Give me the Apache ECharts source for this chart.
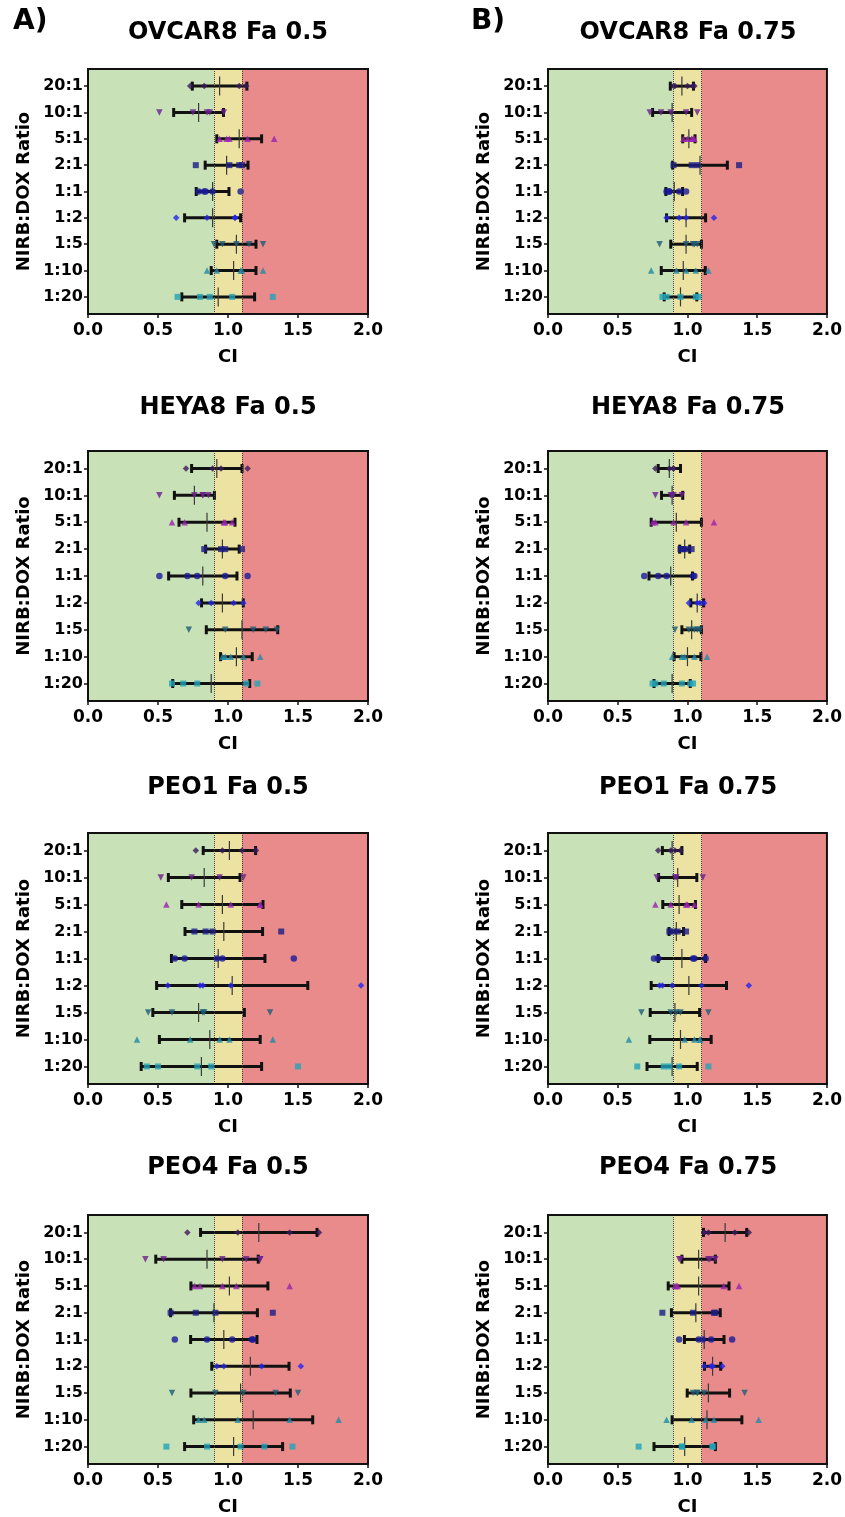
<!DOCTYPE html>
<html><head><meta charset="utf-8">
<script src="https://cdn.jsdelivr.net/npm/echarts@6/dist/echarts.min.js"></script>
<style>html,body{margin:0;padding:0;background:#fff}#c{width:845px;height:1517px}</style>
</head><body><div id="c"></div>
<script>
// ---------- data ----------
const categories = ['20:1','10:1','5:1','2:1','1:1','1:2','1:5','1:10','1:20'];
const xTickStep = 0.5;
const xMin = 0, xMax = 2;
const zoneBounds = [0, 0.9, 1.1, 2];
const panelTitles = ['OVCAR8 Fa 0.5','OVCAR8 Fa 0.75','HEYA8 Fa 0.5','HEYA8 Fa 0.75','PEO1 Fa 0.5','PEO1 Fa 0.75','PEO4 Fa 0.5','PEO4 Fa 0.75'];
const panelLetters = ['A)','B)'];

const ovcar8_05_mean = [0.94,0.79,1.08,0.99,0.89,0.89,1.06,1.04,0.93];
const ovcar8_05_sd   = [0.195,0.178,0.16,0.153,0.117,0.2,0.14,0.16,0.26];
const ovcar8_05_pts  = [[0.73,0.83,1.08,1.13],[0.51,0.75,0.85,0.87,0.97],[0.94,0.99,1.01,1.14,1.33],[0.77,1.01,1.08,1.10],[0.79,0.83,0.84,0.89,1.09],[0.63,0.85,1.05,1.05],[0.90,0.96,1.06,1.15,1.25],[0.85,0.92,1.09,1.10,1.25],[0.64,0.80,0.87,1.03,1.32]];

const ovcar8_075_mean = [0.96,0.89,1.01,1.09,0.905,0.99,0.99,0.97,0.95];
const ovcar8_075_sd   = [0.083,0.14,0.044,0.196,0.06,0.14,0.11,0.158,0.117];
const ovcar8_075_pts  = [[0.90,0.91,1.00,1.04,1.05],[0.73,0.81,0.88,0.99,1.07],[0.97,1.00,1.03,1.04,1.05],[0.90,1.03,1.07,1.37],[0.85,0.87,0.87,0.94,0.99],[0.85,0.94,0.99,1.19],[0.80,0.99,1.04,1.05,1.07],[0.74,0.92,0.99,1.06,1.15],[0.82,0.85,0.95,1.06,1.08]];

const heya8_05_mean = [0.92,0.76,0.85,0.96,0.82,0.96,1.10,1.06,0.88];
const heya8_05_sd   = [0.18,0.143,0.2,0.12,0.244,0.149,0.255,0.113,0.275];
const heya8_05_pts  = [[0.70,0.89,0.95,1.14],[0.51,0.76,0.82,0.82,0.86],[0.60,0.69,0.97,0.98,1.03],[0.83,0.95,0.98,1.10],[0.51,0.71,0.78,0.98,1.14],[0.79,0.88,1.04,1.11],[0.72,0.98,1.18,1.27,1.35],[0.96,0.98,1.02,1.11,1.23],[0.60,0.68,0.78,1.13,1.21]];

const heya8_075_mean = [0.87,0.89,0.92,0.98,0.88,1.07,1.03,1.00,0.89];
const heya8_075_sd   = [0.08,0.076,0.18,0.036,0.156,0.046,0.07,0.096,0.13];
const heya8_075_pts  = [[0.77,0.87,0.90,0.90],[0.77,0.88,0.89,0.90,0.96],[0.75,0.77,0.90,0.99,1.19],[0.95,0.96,0.97,0.99,1.03],[0.69,0.79,0.85,1.04,1.05],[1.01,1.07,1.09,1.12],[0.91,1.01,1.05,1.07,1.09],[0.89,0.96,0.98,1.05,1.14],[0.75,0.77,0.83,0.96,1.02,1.04]];

const peo1_05_mean = [1.01,0.83,0.96,0.97,0.93,1.03,0.79,0.87,0.81];
const peo1_05_sd   = [0.187,0.256,0.29,0.277,0.334,0.54,0.327,0.36,0.43];
const peo1_05_pts  = [[0.77,0.96,1.10,1.20],[0.52,0.74,0.94,1.11],[0.56,0.79,1.02,1.23,1.23],[0.76,0.84,0.89,1.38],[0.62,0.69,0.92,0.96,1.47],[0.57,0.80,0.82,1.02,1.95],[0.43,0.60,0.82,0.83,1.30],[0.35,0.73,0.94,1.01,1.32],[0.42,0.50,0.78,0.88,1.50]];

const peo1_075_mean = [0.89,0.93,0.94,0.92,0.96,1.01,0.91,0.95,0.89];
const peo1_075_sd   = [0.07,0.137,0.117,0.052,0.17,0.27,0.177,0.22,0.18];
const peo1_075_pts  = [[0.79,0.88,0.91,0.95],[0.78,0.91,0.92,1.11],[0.77,0.88,0.99,1.00,1.05],[0.87,0.90,0.93,0.99],[0.76,0.79,1.04,1.05,1.13],[0.80,0.82,0.89,1.10,1.44],[0.67,0.88,0.92,0.95,1.15],[0.58,0.98,1.05,1.09,1.09],[0.64,0.83,0.87,0.94,1.15]];

const peo4_05_mean = [1.22,0.85,1.01,0.90,0.97,1.16,1.09,1.18,1.04];
const peo4_05_sd   = [0.416,0.366,0.275,0.31,0.237,0.276,0.355,0.425,0.35];
const peo4_05_pts  = [[0.71,1.07,1.44,1.65],[0.41,0.54,0.96,1.13,1.23,1.23],[0.76,0.80,0.96,1.06,1.44],[0.59,0.77,0.91,1.32],[0.62,0.85,1.03,1.17,1.18],[0.92,0.97,1.24,1.52],[0.60,0.91,1.11,1.34,1.50],[0.79,0.83,1.07,1.44,1.79],[0.56,0.85,1.09,1.26,1.46]];

const peo4_075_mean = [1.27,1.08,1.08,1.06,1.12,1.18,1.15,1.14,0.98];
const peo4_075_sd   = [0.155,0.12,0.218,0.175,0.142,0.058,0.152,0.25,0.22];
const peo4_075_pts  = [[1.12,1.12,1.15,1.34,1.44],[0.94,0.95,1.15,1.16,1.20],[0.91,0.92,0.93,1.26,1.37],[0.82,1.04,1.19,1.20],[0.94,1.08,1.11,1.17,1.32],[1.12,1.17,1.18,1.25],[1.04,1.07,1.07,1.12,1.41],[0.85,1.03,1.13,1.19,1.51],[0.65,0.96,0.96,1.18,1.18]];

// ---------- styles / layout ----------
const panels = [
  {m: ovcar8_05_mean, s: ovcar8_05_sd, p: ovcar8_05_pts},
  {m: ovcar8_075_mean, s: ovcar8_075_sd, p: ovcar8_075_pts},
  {m: heya8_05_mean, s: heya8_05_sd, p: heya8_05_pts},
  {m: heya8_075_mean, s: heya8_075_sd, p: heya8_075_pts},
  {m: peo1_05_mean, s: peo1_05_sd, p: peo1_05_pts},
  {m: peo1_075_mean, s: peo1_075_sd, p: peo1_075_pts},
  {m: peo4_05_mean, s: peo4_05_sd, p: peo4_05_pts},
  {m: peo4_075_mean, s: peo4_075_sd, p: peo4_075_pts}
];
const markerSymbols = ['diamond','triangle','triangle','rect','circle','diamond','triangle','triangle','rect'];
const markerRotate  = [0,180,0,0,0,0,180,0,0];
const markerSizes   = [6.5,6.5,6.5,6,6.5,6.5,6.5,6.5,6];
const markerColors  = ['#3b1a5c','#6b1f8f','#9a22b0','#1c1c86','#1a1a9a','#2424ee','#1d5c78','#1f8aa6','#22a2b8'];
const zoneColors = ['#c8e1b6','#ece3a2','#e98b8b'];
const FONT = 'DejaVu Sans';

const colLeft = [88, 548];
const plotW = 280;
const rowTop = [69, 451, 833, 1215];
const rowH = [245, 250, 251, 251];
const titleY = [33, 408, 788, 1168];

const grids = [], xAxes = [], yAxes = [], series = [], titles = [];
const catIdx = categories.map((c, i) => i);

panels.forEach((pn, i) => {
  const col = i % 2, row = Math.floor(i / 2);
  grids.push({left: colLeft[col], top: rowTop[row], width: plotW, height: rowH[row],
    show: true, borderColor: '#111', borderWidth: 2, backgroundColor: 'transparent', z: 20});
  titles.push({text: panelTitles[i], left: colLeft[col] + plotW / 2, top: titleY[row],
    textAlign: 'center', textVerticalAlign: 'middle', padding: 0,
    textStyle: {fontFamily: FONT, fontWeight: 'bold', fontSize: 24, color: '#000'}});
  xAxes.push({gridIndex: i, type: 'value', min: xMin, max: xMax, interval: xTickStep, z: 20,
    name: 'CI', nameLocation: 'middle', nameGap: 34,
    nameTextStyle: {fontFamily: FONT, fontWeight: 'bold', fontSize: 18, color: '#000'},
    axisLine: {show: true, onZero: false, lineStyle: {color: '#111', width: 2}},
    axisTick: {show: true, length: 4, lineStyle: {color: '#111', width: 1.5}},
    axisLabel: {margin: 8, fontFamily: FONT, fontWeight: 'bold', fontSize: 17, color: '#000',
      formatter: v => v.toFixed(1)},
    splitLine: {show: false}});
  yAxes.push({gridIndex: i, type: 'value', inverse: true, min: -0.65, max: categories.length - 1 + 0.65, z: 20,
    name: 'NIRB:DOX Ratio', nameLocation: 'middle', nameGap: 55,
    nameTextStyle: {fontFamily: FONT, fontWeight: 'bold', fontSize: 18, color: '#000'},
    axisLine: {show: true, onZero: false, lineStyle: {color: '#111', width: 2}},
    axisTick: {show: true, length: 4, customValues: catIdx, lineStyle: {color: '#111', width: 1.5}},
    axisLabel: {margin: 5, customValues: catIdx, fontFamily: FONT, fontWeight: 'bold', fontSize: 16, color: '#000',
      formatter: v => categories[Math.round(v)]},
    splitLine: {show: false}});

  // background zones + dotted thresholds
  series.push({type: 'scatter', xAxisIndex: i, yAxisIndex: i, data: [], z: 1, silent: true,
    markArea: {silent: true, data: zoneColors.map((c, k) => [
      {xAxis: zoneBounds[k], itemStyle: {color: c, opacity: 1}}, {xAxis: zoneBounds[k + 1]}])},
    markLine: {silent: true, symbol: 'none', label: {show: false},
      lineStyle: {type: 'dotted', color: '#444', width: 1},
      data: [{xAxis: zoneBounds[1]}, {xAxis: zoneBounds[2]}]}});

  // mean ± SD bars
  series.push({type: 'custom', xAxisIndex: i, yAxisIndex: i, z: 3, silent: true,
    data: pn.m.map((m, k) => [m, k, pn.s[k]]),
    encode: {x: 0, y: 1},
    renderItem: (params, api) => {
      const m = api.value(0), k = api.value(1), s = api.value(2);
      const a = api.coord([m - s, k]), b = api.coord([m + s, k]), c = api.coord([m, k]);
      const capH = 4.5, meanH = 9.5;
      const st = {stroke: '#111', lineWidth: 3};
      return {type: 'group', children: [
        {type: 'line', shape: {x1: a[0], y1: a[1], x2: b[0], y2: b[1]}, style: st},
        {type: 'line', shape: {x1: a[0], y1: a[1] - capH, x2: a[0], y2: a[1] + capH}, style: st},
        {type: 'line', shape: {x1: b[0], y1: b[1] - capH, x2: b[0], y2: b[1] + capH}, style: st},
        {type: 'line', shape: {x1: c[0], y1: c[1] - meanH, x2: c[0], y2: c[1] + meanH},
          style: {stroke: '#3a3a3a', lineWidth: 1.2}}
      ]};
    }});

  // individual points
  const pts = [];
  pn.p.forEach((arr, k) => arr.forEach(v => pts.push({
    value: [v, k], symbol: markerSymbols[k], symbolRotate: markerRotate[k], symbolSize: markerSizes[k],
    itemStyle: {color: markerColors[k]}})));
  series.push({type: 'scatter', xAxisIndex: i, yAxisIndex: i, z: 4, data: pts, silent: true});
});

const chart = echarts.init(document.getElementById('c'), null, {renderer: 'canvas'});
chart.setOption({
  animation: false,
  backgroundColor: '#fff',
  title: titles,
  grid: grids, xAxis: xAxes, yAxis: yAxes, series: series,
  graphic: panelLetters.map((t, j) => ({type: 'text', left: j === 0 ? 13 : 471, top: 8, z: 50,
    style: {text: t, font: 'bold 28px "DejaVu Sans"', fill: '#000'}}))
});
</script></body></html>
